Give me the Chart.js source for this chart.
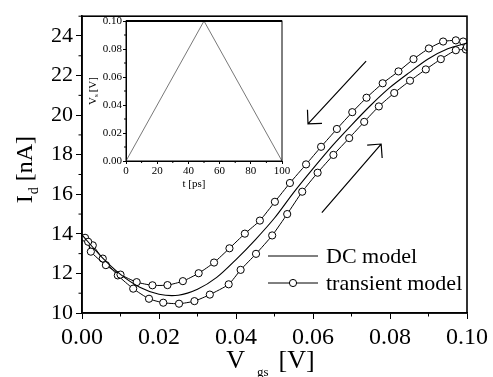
<!DOCTYPE html>
<html><head><meta charset="utf-8">
<script src="https://cdn.jsdelivr.net/npm/chart.js@4"></script>
<style>
html,body{margin:0;padding:0;background:#fff;}
#wrap{position:relative;width:493px;height:377px;overflow:hidden;}
#main{position:absolute;left:0;top:0;}
#inset{position:absolute;left:86px;top:0;}
</style></head><body>
<div id="wrap">
<canvas id="main" width="493" height="377"></canvas>
<canvas id="inset" width="206" height="195"></canvas>
</div>
<script>
// ---------- data ----------
const dcX = [0,0.005,0.01,0.015,0.02,0.025,0.03,0.035,0.04,0.045,0.05,0.055,0.06,0.065,0.07,0.075,0.08,0.085,0.09,0.095,0.1];
const dcY = [13.95,12.85,11.95,11.3,10.95,10.9,11.2,11.8,12.7,13.7,14.8,16.1,17.3,18.45,19.5,20.5,21.4,22.15,22.85,23.35,23.65];

// transient model, sweep back (0.10 -> 0), upper branch
const upX = [0.0016,0.0023,0.0062,0.0100,0.0142,0.0183,0.0222,0.0262,0.0303,0.0343,0.0383,0.0423,0.0462,0.0501,0.0540,0.0582,0.0621,0.0662,0.0702,0.0739,0.0781,0.0822,0.0861,0.0901,0.0938,0.0971,0.0990,0.1000];
const upY = [13.6,13.1,12.42,11.94,11.56,11.40,11.41,11.61,12.01,12.55,13.27,14.01,14.67,15.62,16.57,17.51,18.40,19.30,20.15,20.88,21.61,22.21,22.83,23.37,23.72,23.78,23.72,23.45];

// transient model, sweep up (0 -> 0.10), lower branch
const lowX = [0.0008,0.0028,0.0054,0.0093,0.0133,0.0174,0.0211,0.0252,0.0292,0.0332,0.0381,0.0412,0.0452,0.0494,0.0533,0.0572,0.0612,0.0653,0.0694,0.0733,0.0771,0.0811,0.0852,0.0893,0.0932,0.0971,0.0997];
const lowY = [13.8,13.42,12.75,11.9,11.23,10.72,10.52,10.47,10.60,10.93,11.45,12.18,12.99,13.92,15.0,16.13,17.09,17.99,18.84,19.66,20.44,21.12,21.74,22.31,22.83,23.28,23.32];

const xTicks = [0,0.02,0.04,0.06,0.08,0.10];
const xMinor = [0.01,0.03,0.05,0.07,0.09];
const yTicks = [10,12,14,16,18,20,22,24];
const yMinor = [11,13,15,17,19,21,23,25];

// sweep-direction arrows (data units): [fromX, fromY, toX, toY]
const arrowBack = [0.0738,22.73,0.0587,19.56];
const arrowUp   = [0.0623,15.07,0.0777,18.54];

const legendLabels = ['DC model','transient model'];

// inset: V_s(t)
const insetT = [0,50,100];
const insetV = [0,0.10,0];
const insetXTicks = [0,20,40,60,80,100];
const insetXMinor = [10,30,50,70,90];
const insetYTicks = [0,0.02,0.04,0.06,0.08,0.10];
const insetYMinor = [0.01,0.03,0.05,0.07,0.09];

// ---------- helpers ----------
const SERIF = "'Liberation Serif','Times New Roman',serif";
const pts = (xs, ys) => xs.map((v,i)=>({x:v, y:ys[i]}));

function drawParts(ctx, parts){
  let w = 0;
  parts.forEach(p=>{ ctx.font = p.size+'px '+SERIF; w += (p.gap||0) + ctx.measureText(p.t).width; });
  return w;
}
function renderParts(ctx, parts, x0){
  let x = x0;
  parts.forEach(p=>{
    x += (p.gap||0);
    ctx.font = p.size+'px '+SERIF;
    ctx.fillText(p.t, x, p.dy||0);
    x += ctx.measureText(p.t).width;
  });
}
function arrow(ctx, xs, ys, a){
  const x1 = xs.getPixelForValue(a[0]), y1 = ys.getPixelForValue(a[1]);
  const x2 = xs.getPixelForValue(a[2]), y2 = ys.getPixelForValue(a[3]);
  const ang = Math.atan2(y1-y2, x1-x2);
  const L = 14, spread = Math.PI/4;
  ctx.beginPath();
  ctx.moveTo(x1,y1); ctx.lineTo(x2,y2);
  ctx.moveTo(x2 + L*Math.cos(ang+spread), y2 + L*Math.sin(ang+spread));
  ctx.lineTo(x2,y2);
  ctx.lineTo(x2 + L*Math.cos(ang-spread), y2 + L*Math.sin(ang-spread));
  ctx.stroke();
}

const mainDecor = {
  id:'mainDecor',
  afterDraw(chart){
    const {ctx, chartArea:a, scales:{x, y}} = chart;
    ctx.save();
    ctx.strokeStyle = '#000'; ctx.fillStyle = '#000';
    ctx.lineWidth = 1.6;
    ctx.strokeRect(a.left, a.top, a.right-a.left, a.bottom-a.top);
    ctx.lineWidth = 1;
    ctx.beginPath();
    yMinor.forEach(v=>{ const p = y.getPixelForValue(v); ctx.moveTo(a.left,p); ctx.lineTo(a.left-3.5,p); });
    xMinor.forEach(v=>{ const p = x.getPixelForValue(v); ctx.moveTo(p,a.bottom); ctx.lineTo(p,a.bottom+3.5); });
    ctx.stroke();
    ctx.lineWidth = 1.2;
    arrow(ctx, x, y, arrowBack);
    arrow(ctx, x, y, arrowUp);
    // legend
    const lx0 = a.right-199, lx1 = a.right-149, tx = a.right-141;
    const ly1 = a.bottom-57, ly2 = a.bottom-30;
    ctx.lineWidth = 1;
    ctx.beginPath(); ctx.moveTo(lx0,ly1); ctx.lineTo(lx1,ly1); ctx.moveTo(lx0,ly2); ctx.lineTo(lx1,ly2); ctx.stroke();
    ctx.beginPath(); ctx.arc((lx0+lx1)/2, ly2, 3.6, 0, Math.PI*2); ctx.fillStyle='#fff'; ctx.fill(); ctx.stroke();
    ctx.fillStyle = '#000';
    ctx.font = '22px '+SERIF; ctx.textBaseline = 'alphabetic'; ctx.textAlign = 'left';
    ctx.fillText(legendLabels[0], tx, ly1+7);
    ctx.fillText(legendLabels[1], tx, ly2+7);
    // x title: V_gs [V]
    const xParts = [{t:'V',size:26},{t:'gs',size:13,dy:8,gap:12},{t:'[V]',size:26,gap:10}];
    const xw = drawParts(ctx, xParts);
    ctx.save();
    ctx.translate(0, a.bottom+55);
    renderParts(ctx, xParts, (a.left+a.right)/2 - 4 - xw/2);
    ctx.restore();
    // y title: I_d [nA]
    const yParts = [{t:'I',size:24},{t:'d',size:14,dy:6,gap:1},{t:'[nA]',size:24,gap:6}];
    const yw = drawParts(ctx, yParts);
    ctx.save();
    ctx.translate(a.left-50, (a.top+a.bottom)/2 + 5);
    ctx.rotate(-Math.PI/2);
    renderParts(ctx, yParts, -yw/2);
    ctx.restore();
    ctx.restore();
  }
};

new Chart(document.getElementById('main'), {
  type:'scatter',
  data:{
    datasets:[
      {label:'DC model', data:pts(dcX,dcY), showLine:true, borderColor:'#000', borderWidth:1.1, pointRadius:0, tension:0.3, fill:false},
      {label:'transient model', data:pts(upX,upY), showLine:true, borderColor:'#000', borderWidth:1, pointRadius:3.6, pointBorderWidth:1, pointBorderColor:'#000', pointBackgroundColor:'#fff', tension:0.2, fill:false},
      {label:'transient model (up)', data:pts(lowX,lowY), showLine:true, borderColor:'#000', borderWidth:1, pointRadius:3.6, pointBorderWidth:1, pointBorderColor:'#000', pointBackgroundColor:'#fff', tension:0.2, fill:false}
    ]
  },
  options:{
    responsive:false, animation:false, devicePixelRatio:1,
    layout:{padding:{left:0,right:26,top:5,bottom:0}},
    plugins:{legend:{display:false}, tooltip:{enabled:false}},
    scales:{
      x:{type:'linear', min:0, max:0.10,
        afterBuildTicks:s=>{ s.ticks = xTicks.map(v=>({value:v})); },
        afterFit:s=>{ s.height = 64; },
        grid:{display:true, drawOnChartArea:false, drawTicks:true, tickLength:6, color:'#000', lineWidth:1},
        border:{display:true, color:'#000', width:1.6},
        ticks:{color:'#000', padding:4, maxRotation:0, autoSkip:false, font:{family:SERIF, size:24}, callback:v=>v.toFixed(2)}
      },
      y:{type:'linear', min:10, max:25,
        afterBuildTicks:s=>{ s.ticks = yTicks.map(v=>({value:v})); },
        afterFit:s=>{ s.width = 82; },
        grid:{display:true, drawOnChartArea:false, drawTicks:true, tickLength:6, color:'#000', lineWidth:1},
        border:{display:true, color:'#000', width:1.6},
        ticks:{color:'#000', padding:3, autoSkip:false, font:{family:SERIF, size:22}, callback:v=>String(v)}
      }
    }
  },
  plugins:[mainDecor]
});

const insetDecor = {
  id:'insetDecor',
  afterDraw(chart){
    const {ctx, chartArea:a, scales:{x, y}} = chart;
    ctx.save();
    ctx.strokeStyle = '#000'; ctx.fillStyle = '#000';
    ctx.lineWidth = 1;
    ctx.strokeRect(a.left, a.top, a.right-a.left, a.bottom-a.top);
    ctx.beginPath(); ctx.lineWidth = 2; ctx.moveTo(a.left, a.top); ctx.lineTo(a.right, a.top); ctx.stroke();
    ctx.lineWidth = 1;
    ctx.beginPath();
    insetYMinor.forEach(v=>{ const p = y.getPixelForValue(v); ctx.moveTo(a.left,p); ctx.lineTo(a.left-2,p); });
    insetXMinor.forEach(v=>{ const p = x.getPixelForValue(v); ctx.moveTo(p,a.bottom); ctx.lineTo(p,a.bottom+2); });
    ctx.stroke();
    ctx.textBaseline = 'alphabetic'; ctx.textAlign = 'left';
    const xp = [{t:'t [ps]', size:11}];
    const xw = drawParts(ctx, xp);
    ctx.save(); ctx.translate(0, a.bottom+26); renderParts(ctx, xp, (a.left+a.right)/2 - 10 - xw/2); ctx.restore();
    const yp = [{t:'V',size:11},{t:'s',size:7,dy:2},{t:'[V]',size:11,gap:2}];
    const yw = drawParts(ctx, yp);
    ctx.save(); ctx.translate(a.left-30, (a.top+a.bottom)/2); ctx.rotate(-Math.PI/2); renderParts(ctx, yp, -yw/2); ctx.restore();
    ctx.restore();
  }
};

new Chart(document.getElementById('inset'), {
  type:'scatter',
  data:{datasets:[{label:'Vs', data:pts(insetT,insetV), showLine:true, borderColor:'#555', borderWidth:0.8, pointRadius:0, tension:0, fill:false}]},
  options:{
    responsive:false, animation:false, devicePixelRatio:1,
    layout:{padding:{left:0,right:10,top:21,bottom:0}},
    plugins:{legend:{display:false}, tooltip:{enabled:false}},
    scales:{
      x:{type:'linear', min:0, max:100,
        afterBuildTicks:s=>{ s.ticks = insetXTicks.map(v=>({value:v})); },
        afterFit:s=>{ s.height = 34; },
        grid:{display:true, drawOnChartArea:false, drawTicks:true, tickLength:3, color:'#000', lineWidth:1},
        border:{display:true, color:'#000', width:1},
        ticks:{color:'#000', padding:1, maxRotation:0, autoSkip:false, font:{family:SERIF, size:11}, callback:v=>String(v)}
      },
      y:{type:'linear', min:0, max:0.10,
        afterBuildTicks:s=>{ s.ticks = insetYTicks.map(v=>({value:v})); },
        afterFit:s=>{ s.width = 40; },
        grid:{display:true, drawOnChartArea:false, drawTicks:true, tickLength:3, color:'#000', lineWidth:1},
        border:{display:true, color:'#000', width:1},
        ticks:{color:'#000', padding:1, autoSkip:false, font:{family:SERIF, size:11}, callback:v=>v.toFixed(2)}
      }
    }
  },
  plugins:[insetDecor]
});
</script>
</body></html>
